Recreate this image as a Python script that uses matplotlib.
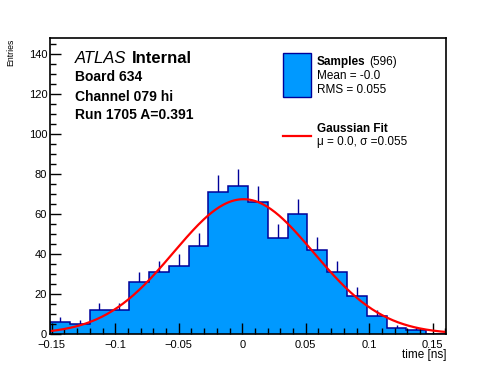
#!/usr/bin/env python3
"""Timing histogram with Gaussian fit (ROOT/ATLAS style)."""

import matplotlib.pyplot as plt
import numpy as np
from matplotlib.ticker import FuncFormatter, MultipleLocator

plt.rcParams["font.family"] = ["Liberation Sans", "DejaVu Sans"]

# histogram: 20 bins over the x range
x_lo, x_hi = -0.1514, 0.1604
counts = [6, 5, 12, 12, 26, 31, 34, 44, 71, 74,
          66, 48, 60, 42, 31, 19, 9, 3, 2, 0]
n_samples = 596
mean_txt, rms_txt = "-0.0", "0.055"

# Gaussian fit parameters
fit_mu, fit_sigma = 0.001, 0.055

edges = np.linspace(x_lo, x_hi, len(counts) + 1)
centers = 0.5 * (edges[:-1] + edges[1:])
counts = np.array(counts, dtype=float)
bw = edges[1] - edges[0]
fit_amp = n_samples * bw / (fit_sigma * np.sqrt(2 * np.pi))

fill_c = "#0099ff"
line_c = "#000099"

fig = plt.figure(figsize=(4.96, 3.72), dpi=100)
ax = fig.add_axes([50 / 496, 38 / 372, 396 / 496, 296 / 372])

# error bars (upper half shows above the filled bars)
nz = counts > 0
ax.vlines(centers[nz], counts[nz], counts[nz] + np.sqrt(counts[nz]),
          color=line_c, lw=1.0, zorder=0.5)
ax.stairs(counts, edges, fill=True, color=fill_c, zorder=1)
ax.stairs(counts, edges, fill=False, color=line_c, lw=1.1, zorder=1.1)

xf = np.linspace(x_lo, x_hi, 300)
ax.plot(xf, fit_amp * np.exp(-0.5 * ((xf - fit_mu) / fit_sigma) ** 2),
        color="red", lw=1.6, zorder=2)

ax.set_xlim(x_lo, x_hi)
ax.set_ylim(0, 148)
ax.xaxis.set_major_locator(MultipleLocator(0.05))
ax.xaxis.set_minor_locator(MultipleLocator(0.01))
ax.yaxis.set_major_locator(MultipleLocator(20))
ax.yaxis.set_minor_locator(MultipleLocator(5))
ax.xaxis.set_major_formatter(FuncFormatter(
    lambda v, p: "0" if abs(v) < 1e-9 else f"{v:g}".replace("-", "\u2212")))
ax.tick_params(which="both", direction="in", labelsize=8, width=1.0)
ax.tick_params(which="major", length=8)
ax.tick_params(which="minor", length=4)
ax.tick_params(axis="x", pad=4)
ax.tick_params(axis="y", pad=2)
for s in ax.spines.values():
    s.set_linewidth(1.2)

fig.text(446 / 496, 1 - 355 / 372, "time [ns]", ha="right", va="center", fontsize=8.5)
fig.text(10.5 / 496, 1 - 39 / 372, "Entries", ha="center", va="top",
         rotation=90, fontsize=6.3)

# labels top-left
t1 = fig.text(75 / 496, 1 - 63 / 372, "ATLAS", style="italic", fontsize=12, va="baseline")
ax.annotate("Internal", xy=(1, 0), xycoords=t1, xytext=(4, 0),
            textcoords="offset points", weight="bold", fontsize=12, va="bottom")
for y, t in [(81, "Board 634"), (101, "Channel 079 hi"), (119, "Run 1705 A=0.391")]:
    fig.text(75 / 496, 1 - y / 372, t, weight="bold", fontsize=10, va="baseline")

# legend
fig.patches.append(plt.Rectangle((283 / 496, 1 - 97 / 372), 28 / 496, 44 / 372,
                                 transform=fig.transFigure, facecolor=fill_c,
                                 edgecolor=line_c, lw=1.0))
t2 = fig.text(317 / 496, 1 - 62 / 372, "Samples", weight="bold", fontsize=8.5, va="center")
ax.annotate(f"({n_samples})", xy=(1, 0.5), xycoords=t2, xytext=(2.5, 0),
            textcoords="offset points", fontsize=8.5, va="center")
fig.text(317 / 496, 1 - 76 / 372, f"Mean = {mean_txt}", fontsize=8.5, va="center")
fig.text(317 / 496, 1 - 90 / 372, f"RMS = {rms_txt}", fontsize=8.5, va="center")
fig.add_artist(plt.Line2D([283 / 496, 311 / 496], [1 - 136 / 372] * 2,
                          transform=fig.transFigure, color="red", lw=1.6))
fig.text(317 / 496, 1 - 129 / 372, "Gaussian Fit", weight="bold", fontsize=8.5, va="center")
fig.text(317 / 496, 1 - 142 / 372, f"\u03bc = 0.0, \u03c3 ={fit_sigma:.3f}",
         fontsize=8.5, va="center")

fig.savefig("out.png", dpi=100)
